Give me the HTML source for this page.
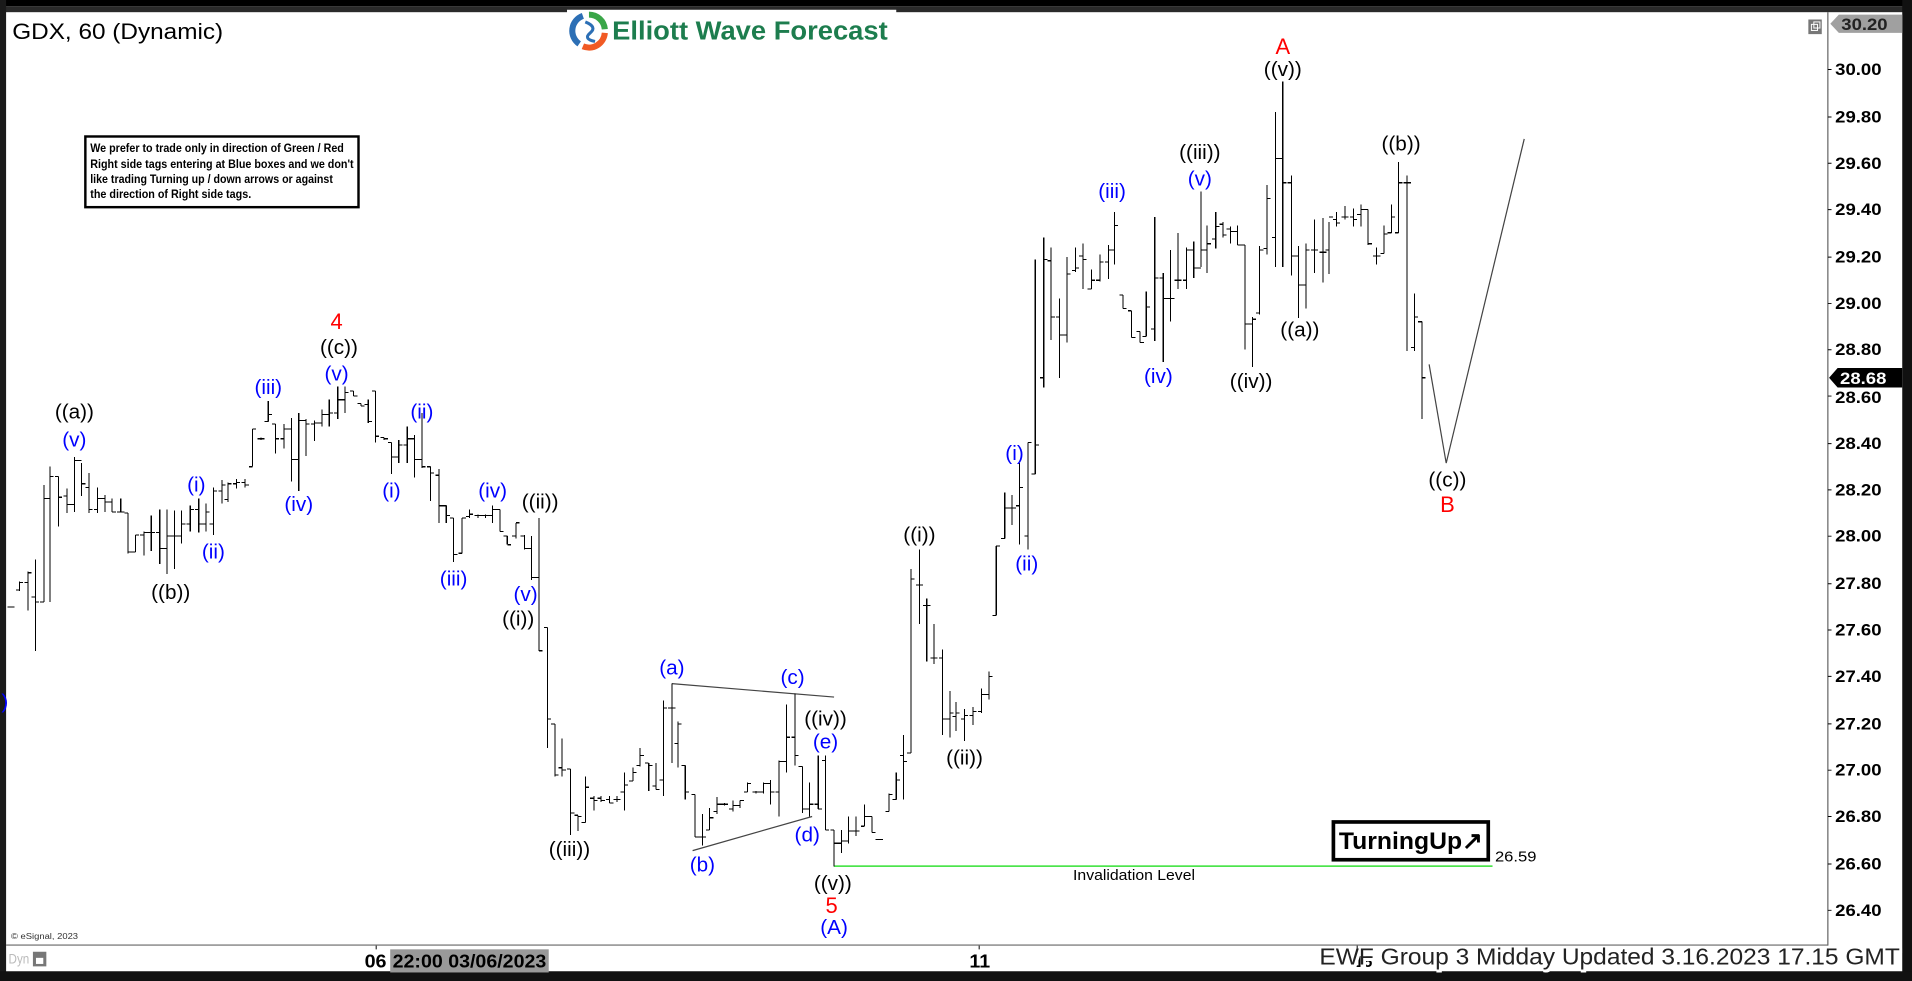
<!DOCTYPE html>
<html><head><meta charset="utf-8"><style>
html,body{margin:0;padding:0;background:#fff;}
svg{display:block;}
text{font-family:"Liberation Sans",Arial,sans-serif;}
</style></head><body>
<svg xmlns="http://www.w3.org/2000/svg" width="1912" height="981" viewBox="0 0 1568 805" preserveAspectRatio="none">
<rect x="0" y="0" width="1568" height="805" fill="#fff"/>
<!-- frame -->
<rect x="0" y="0" width="1568" height="5" fill="#000"/>
<rect x="0" y="5" width="1568" height="5" fill="#2a2a2a"/>
<rect x="465" y="8" width="270" height="4" fill="#fff"/>
<rect x="0" y="0" width="5" height="805" fill="#1a1a1a"/>
<rect x="1560" y="0" width="8" height="805" fill="#111"/>
<rect x="0" y="797" width="1568" height="8" fill="#111"/>
<!-- axes -->
<line x1="1499" y1="10" x2="1499" y2="776" stroke="#666" stroke-width="1"/>
<line x1="5" y1="775.5" x2="1499" y2="775.5" stroke="#666" stroke-width="1"/>
<g stroke="#000" stroke-width="0.8">
<path d="M1499 57h3M1499 96h3M1499 134h3M1499 172h3M1499 211h3M1499 249h3M1499 287h3M1499 325h3M1499 364h3M1499 402h3M1499 440h3M1499 479h3M1499 517h3M1499 555h3M1499 594h3M1499 632h3M1499 670h3M1499 709h3M1499 747h3"/>
<path d="M308.5 776v3M803 776v3M1113 776v3"/>
</g>
<g font-size="14" font-weight="bold" fill="#000" dominant-baseline="central">
<text x="1505" y="57" textLength="38" lengthAdjust="spacingAndGlyphs">30.00</text>
<text x="1505" y="96" textLength="38" lengthAdjust="spacingAndGlyphs">29.80</text>
<text x="1505" y="134" textLength="38" lengthAdjust="spacingAndGlyphs">29.60</text>
<text x="1505" y="172" textLength="38" lengthAdjust="spacingAndGlyphs">29.40</text>
<text x="1505" y="211" textLength="38" lengthAdjust="spacingAndGlyphs">29.20</text>
<text x="1505" y="249" textLength="38" lengthAdjust="spacingAndGlyphs">29.00</text>
<text x="1505" y="287" textLength="38" lengthAdjust="spacingAndGlyphs">28.80</text>
<text x="1505" y="326" textLength="38" lengthAdjust="spacingAndGlyphs">28.60</text>
<text x="1505" y="364" textLength="38" lengthAdjust="spacingAndGlyphs">28.40</text>
<text x="1505" y="402" textLength="38" lengthAdjust="spacingAndGlyphs">28.20</text>
<text x="1505" y="440" textLength="38" lengthAdjust="spacingAndGlyphs">28.00</text>
<text x="1505" y="479" textLength="38" lengthAdjust="spacingAndGlyphs">27.80</text>
<text x="1505" y="517" textLength="38" lengthAdjust="spacingAndGlyphs">27.60</text>
<text x="1505" y="555" textLength="38" lengthAdjust="spacingAndGlyphs">27.40</text>
<text x="1505" y="594" textLength="38" lengthAdjust="spacingAndGlyphs">27.20</text>
<text x="1505" y="632" textLength="38" lengthAdjust="spacingAndGlyphs">27.00</text>
<text x="1505" y="670" textLength="38" lengthAdjust="spacingAndGlyphs">26.80</text>
<text x="1505" y="709" textLength="38" lengthAdjust="spacingAndGlyphs">26.60</text>
<text x="1505" y="747" textLength="38" lengthAdjust="spacingAndGlyphs">26.40</text>
</g>
<!-- top price flag -->
<polygon points="1501,19.5 1508,12 1560,12 1560,27 1508,27" fill="#a0a0a0"/>
<text x="1510" y="20" font-size="14" font-weight="bold" fill="#222" dominant-baseline="central" textLength="38" lengthAdjust="spacingAndGlyphs">30.20</text>
<!-- current price flag -->
<polygon points="1500,310 1507,302 1560,302 1560,318 1507,318" fill="#000"/>
<text x="1509" y="310.5" font-size="14" font-weight="bold" fill="#fff" dominant-baseline="central" textLength="38" lengthAdjust="spacingAndGlyphs">28.68</text>
<!-- small window icon -->
<rect x="1483" y="16" width="11" height="12" fill="#777"/>
<rect x="1485.5" y="20" width="5" height="5" fill="none" stroke="#fff" stroke-width="0.8"/>
<rect x="1487.5" y="18" width="5" height="5" fill="none" stroke="#fff" stroke-width="0.8"/>
<!-- title -->
<text x="10" y="26" font-size="18" fill="#000" dominant-baseline="central" textLength="173" lengthAdjust="spacingAndGlyphs">GDX, 60 (Dynamic)</text>
<!-- logo -->
<g>
<path d="M483 12 A13 13 0 0 1 496 24" fill="none" stroke="#3aa648" stroke-width="5"/>
<path d="M496 27 A13 13 0 0 1 478 38" fill="none" stroke="#f15a24" stroke-width="5"/>
<path d="M475 36 A13 13 0 0 1 478 13" fill="none" stroke="#2c6fb5" stroke-width="5"/>
<path d="M480 18 Q490 22 484 27 Q478 32 488 34" fill="none" stroke="#2c6fb5" stroke-width="2.5"/>
</g>
<text x="502" y="26" font-size="21" font-weight="bold" fill="#1d7d4e" dominant-baseline="central" textLength="226" lengthAdjust="spacingAndGlyphs">Elliott Wave Forecast</text>
<!-- disclaimer -->
<rect x="70" y="112" width="224" height="58" fill="#fff" stroke="#000" stroke-width="2"/>
<g font-size="10" font-weight="bold" fill="#000" dominant-baseline="central">
<text x="74" y="121.6" textLength="208" lengthAdjust="spacingAndGlyphs">We prefer to trade only in direction of Green / Red</text>
<text x="74" y="134.5" textLength="216" lengthAdjust="spacingAndGlyphs">Right side tags entering at Blue boxes and we don't</text>
<text x="74" y="146.8" textLength="199" lengthAdjust="spacingAndGlyphs">like trading Turning up / down arrows or against</text>
<text x="74" y="159" textLength="132" lengthAdjust="spacingAndGlyphs">the direction of Right side tags.</text>
</g>
<!-- triangle lines -->
<g stroke="#444" stroke-width="1" fill="none">
<line x1="551" y1="561" x2="684" y2="572"/>
<line x1="568" y1="698" x2="666" y2="670"/>
<polyline points="1172,299 1186,380 1250,114"/>
</g>
<!-- invalidation -->
<line x1="684" y1="710.7" x2="1224" y2="710.7" stroke="#33e033" stroke-width="1.2"/>
<text x="880" y="719" font-size="12" fill="#000" dominant-baseline="central" textLength="100" lengthAdjust="spacingAndGlyphs">Invalidation Level</text>
<text x="1226" y="703.5" font-size="12" fill="#000" dominant-baseline="central" textLength="34" lengthAdjust="spacingAndGlyphs">26.59</text>
<rect x="1093.5" y="674.5" width="127" height="31" fill="#fff" stroke="#000" stroke-width="3"/>
<text x="1098" y="690.5" font-size="20" font-weight="bold" fill="#000" dominant-baseline="central" textLength="118" lengthAdjust="spacingAndGlyphs">TurningUp↗</text>
<!-- bars -->
<g stroke="#000" stroke-width="0.9" fill="none" shape-rendering="crispEdges">
<path d="M6 498h6
M16 477V485M13 484h3M16 478h3
M23 469V501M20 478h3M23 470h3
M29 459V534M26 490h3M29 494h3
M36 398V494M33 494h3M36 409h3
M41 383V494M38 409h3M41 391h3
M48 391V432M45 391h3M48 408h3
M55 401V421M52 407h3M55 414h3
M61 375V420M58 414h3M61 378h3
M67 380V407M64 378h3M67 397h3
M73 388V421M70 400h3M73 418h3
M80 400V421M77 418h3M80 409h3
M86 406V420M83 409h3M86 412h3
M92 409V420M89 412h3M92 420h3
M99 409V420M96 420h3M99 420h3
M105 421V454M102 421h3M105 453h3
M111 439V453M108 453h3M111 439h3
M118 436V456M115 439h3M118 437h3
M124 423V452M121 437h3M124 437h3
M131 418V463M128 437h3M131 450h3
M137 418V471M134 450h3M137 440h3
M143 419V467M140 440h3M143 440h3
M149 419V446M146 440h3M149 430h3
M156 415V436M153 430h3M156 418h3
M163 409V437M160 418h3M163 430h3
M169 413V436M166 430h3M169 420h3
M175 400V439M172 430h3M175 403h3
M182 394V413M179 403h3M182 398h3
M187 396V412M184 410h3M187 397h3
M194 393V401M191 397h3M194 396h3
M201 393V400M198 396h3M201 398h3
M207 352V383M204 383h3M207 352h3
M214 359V361M211 360h3M214 360h3
M220 329V346M217 346h3M220 340h3
M226 348V372M223 348h3M226 360h3
M233 348V368M230 360h3M233 352h3
M239 343V395M236 352h3M239 377h3
M245 339V403M242 377h3M245 345h3
M251 344V374M248 345h3M251 348h3
M258 345V362M255 348h3M258 347h3
M264 336V350M261 347h3M264 340h3
M270 328V350M267 340h3M270 339h3
M277 317V344M274 339h3M277 328h3
M283 317V339M280 328h3M283 322h3
M290 321V325M287 321h3M290 325h3
M296 331V333M293 331h3M296 333h3
M302 328V347M299 332h3M302 346h3
M308 321V363M305 321h3M308 358h3
M315 359V361M312 359h3M315 360h3
M321 363V389M318 363h3M321 375h3
M327 361V380M324 375h3M327 365h3
M334 350V380M331 365h3M334 360h3
M340 357V392M337 360h3M340 377h3
M346 339V384M343 377h3M346 383h3
M353 383V411M350 383h3M353 388h3
M360 385V429M357 390h3M360 415h3
M366 415V429M363 415h3M366 423h3
M372 425V461M369 425h3M372 455h3
M379 425V454M376 454h3M379 425h3
M385 418V425M382 424h3M385 422h3
M392 422V425M389 423h3M392 423h3
M398 422V425M395 423h3M398 423h3
M404 415V429M401 423h3M404 418h3
M410 418V436M407 418h3M410 436h3
M416 440V447M413 440h3M416 447h3
M423 429V442M420 440h3M423 429h3
M430 439V451M427 440h3M430 450h3
M436 440V476M433 450h3M436 474h3
M442 425V534M439 474h3M442 534h3
M449 515V614M446 515h3M449 590h3
M455 594V637M452 594h3M455 636h3
M461 606V637M458 630h3M461 632h3
M468 631V685M465 631h3M468 667h3
M474 669V682M471 669h3M474 670h3
M480 637V675M477 675h3M480 646h3
M487 653V665M484 655h3M487 657h3
M493 653V658M490 655h3M493 657h3
M500 653V659M497 656h3M500 659h3
M506 653V658M503 656h3M506 656h3
M512 634V665M509 650h3M512 644h3
M519 630V641M516 641h3M519 634h3
M525 614V629M522 628h3M525 620h3
M532 626V649M529 626h3M532 628h3
M538 626V648M535 645h3M538 648h3
M544 575V653M541 640h3M544 581h3
M551 561V626M548 581h3M551 581h3
M556 592V630M553 610h3M556 594h3
M562 628V656M559 628h3M562 650h3
M570 652V687M567 652h3M570 687h3
M576 668V694M573 687h3M576 687h3
M582 663V681M579 681h3M582 671h3
M588 654V668M585 666h3M588 660h3
M594 659V661M591 660h3M594 660h3
M601 657V666M598 664h3M601 661h3
M607 657V663M604 661h3M607 657h3
M613 642V650M610 650h3M613 643h3
M620 649V651M617 650h3M620 650h3
M626 642V651M623 650h3M626 643h3
M632 640V660M629 643h3M632 650h3
M639 624V670M636 650h3M639 625h3
M645 578V634M642 625h3M645 605h3
M652 569V628M649 605h3M652 620h3
M658 629V667M655 629h3M658 664h3
M664 642V670M661 664h3M664 660h3
M671 620V664M668 660h3M671 664h3
M677 620V681M674 624h3M677 681h3
M684 681V711M681 681h3M684 692h3
M690 681V700M687 692h3M690 690h3
M696 670V692M693 690h3M696 682h3
M702 670V686M699 682h3M702 682h3
M709 660V678M706 678h3M709 670h3
M715 670V683M712 670h3M715 683h3
M721 689h-3M721 689h3
M729 651V666M726 666h3M729 652h3
M735 634V656M732 656h3M735 640h3
M741 603V656M738 620h3M741 625h3
M747 467V618M744 618h3M747 475h3
M754 451V512M751 480h3M754 480h3
M760 491V543M757 497h3M760 497h3
M766 512V545M763 540h3M766 540h3
M773 533V603M770 540h3M773 590h3
M779 567V605M776 590h3M779 585h3
M784 576V600M781 588h3M784 585h3
M791 582V608M788 590h3M791 587h3
M798 580V595M795 587h3M798 584h3
M805 565V585M802 584h3M805 570h3
M811 551V574M808 570h3M811 555h3
M817 448V505M814 505h3M817 448h3
M824 404V442M821 442h3M824 417h3
M830 406V431M827 417h3M830 417h3
M836 380V447M833 415h3M836 400h3
M843 363V451M840 440h3M843 363h3
M849 213V389M846 389h3M849 365h3
M856 195V318M853 310h3M856 213h3
M862 203V279M859 214h3M862 260h3
M869 245V310M866 260h3M869 275h3
M875 211V281M872 275h3M875 225h3
M882 203V223M879 222h3M882 220h3
M888 200V237M885 210h3M888 213h3
M895 221V237M892 237h3M895 230h3
M902 209V231M899 230h3M902 215h3
M909 201V229M906 215h3M909 205h3
M914 174V217M911 205h3M914 185h3
M921 242V253M918 242h3M921 253h3
M928 255V277M925 255h3M928 277h3
M935 272V281M932 272h3M935 281h3
M940 239V276M937 276h3M940 252h3
M947 178V280M944 270h3M947 228h3
M954 224V297M951 228h3M954 245h3
M960 205V264M957 245h3M960 245h3
M966 191V237M963 230h3M966 230h3
M973 203V237M970 230h3M973 205h3
M979 198V228M976 205h3M979 220h3
M985 157V219M982 220h3M985 205h3
M990 185V224M987 205h3M990 200h3
M997 174V204M994 196h3M997 186h3
M1003 182V195M1000 184h3M1003 193h3
M1009 186V200M1006 188h3M1009 190h3
M1015 185V201M1012 190h3M1015 201h3
M1021 201V287M1018 201h3M1021 266h3
M1027 260V301M1024 266h3M1027 262h3
M1033 202V258M1030 257h3M1033 205h3
M1039 152V209M1036 204h3M1039 163h3
M1046 92V219M1043 195h3M1046 130h3
M1052 67V219M1049 130h3M1052 150h3
M1059 144V226M1056 150h3M1059 210h3
M1065 202V261M1062 210h3M1065 234h3
M1071 200V253M1068 234h3M1071 205h3
M1078 180V224M1075 205h3M1078 205h3
M1085 179V232M1082 207h3M1085 207h3
M1090 182V225M1087 205h3M1090 178h3
M1096 174V186M1093 180h3M1096 183h3
M1103 169V180M1100 178h3M1103 178h3
M1110 171V186M1107 178h3M1110 180h3
M1116 168V186M1113 176h3M1116 172h3
M1122 172V201M1119 172h3M1122 200h3
M1129 203V217M1126 210h3M1129 210h3
M1135 185V208M1132 208h3M1135 192h3
M1141 168V191M1138 191h3M1141 178h3
M1147 133V191M1144 191h3M1147 150h3
M1154 144V288M1151 150h3M1154 150h3
M1160 241V288M1157 285h3M1160 260h3
M1166 264V344M1163 264h3M1166 310h3"/>
</g>
<!-- wave labels -->
<g font-size="17" text-anchor="middle" dominant-baseline="central">
<g fill="#0000ff">
<text x="4" y="576">)</text>
<text x="61" y="361">(v)</text>
<text x="161" y="398">(i)</text>
<text x="175" y="453">(ii)</text>
<text x="220" y="318">(iii)</text>
<text x="245" y="414">(iv)</text>
<text x="276" y="307">(v)</text>
<text x="346" y="338">(ii)</text>
<text x="321" y="403">(i)</text>
<text x="372" y="475">(iii)</text>
<text x="404" y="403">(iv)</text>
<text x="431" y="488">(v)</text>
<text x="551" y="548">(a)</text>
<text x="576" y="710">(b)</text>
<text x="650" y="556">(c)</text>
<text x="677" y="609">(e)</text>
<text x="662" y="685">(d)</text>
<text x="684" y="761">(A)</text>
<text x="832" y="372">(i)</text>
<text x="842" y="463">(ii)</text>
<text x="912" y="157">(iii)</text>
<text x="950" y="309">(iv)</text>
<text x="984" y="147">(v)</text>
</g>
<g fill="#000">
<text x="61" y="338">((a))</text>
<text x="140" y="486">((b))</text>
<text x="278" y="285">((c))</text>
<text x="443" y="412">((ii))</text>
<text x="425" y="508">((i))</text>
<text x="467" y="697">((iii))</text>
<text x="677" y="590">((iv))</text>
<text x="683" y="725">((v))</text>
<text x="754" y="439">((i))</text>
<text x="791" y="622">((ii))</text>
<text x="984" y="125">((iii))</text>
<text x="1026" y="313">((iv))</text>
<text x="1052" y="57">((v))</text>
<text x="1066" y="271">((a))</text>
<text x="1149" y="118">((b))</text>
<text x="1187" y="394">((c))</text>
</g>
<g fill="#ff0000" font-size="18">
<text x="276" y="264">4</text>
<text x="682" y="743">5</text>
<text x="1052" y="38">A</text>
<text x="1187" y="414">B</text>
</g>
</g>
<!-- bottom axis -->
<text x="9" y="768" font-size="7" fill="#333" dominant-baseline="central" textLength="55" lengthAdjust="spacingAndGlyphs">© eSignal, 2023</text>
<text x="7" y="787" font-size="11" fill="#bbb" dominant-baseline="central" textLength="17" lengthAdjust="spacingAndGlyphs">Dyn</text>
<rect x="27" y="781" width="11" height="12" fill="#777"/>
<rect x="29.5" y="786" width="6" height="5" fill="#fff"/>
<text x="299" y="788.5" font-size="15" font-weight="bold" fill="#000" dominant-baseline="central" textLength="18" lengthAdjust="spacingAndGlyphs">06</text>
<rect x="320" y="779" width="130" height="19" fill="#999"/>
<text x="322" y="788.5" font-size="15" font-weight="bold" fill="#000" dominant-baseline="central" textLength="126" lengthAdjust="spacingAndGlyphs">22:00 03/06/2023</text>
<text x="795" y="788.5" font-size="15" font-weight="bold" fill="#000" dominant-baseline="central" textLength="17" lengthAdjust="spacingAndGlyphs">11</text>
<text x="1111" y="790" font-size="13" font-weight="bold" fill="#000" dominant-baseline="central">15</text>
<text x="1083" y="786" font-size="19" fill="#fff" stroke="#fff" stroke-width="2.5" dominant-baseline="central" textLength="476" lengthAdjust="spacingAndGlyphs">EWF Group 3 Midday Updated 3.16.2023 17.15 GMT</text>
<text x="1082" y="785" font-size="19" fill="#222" dominant-baseline="central" textLength="476" lengthAdjust="spacingAndGlyphs">EWF Group 3 Midday Updated 3.16.2023 17.15 GMT</text>
</svg>
</body></html>
